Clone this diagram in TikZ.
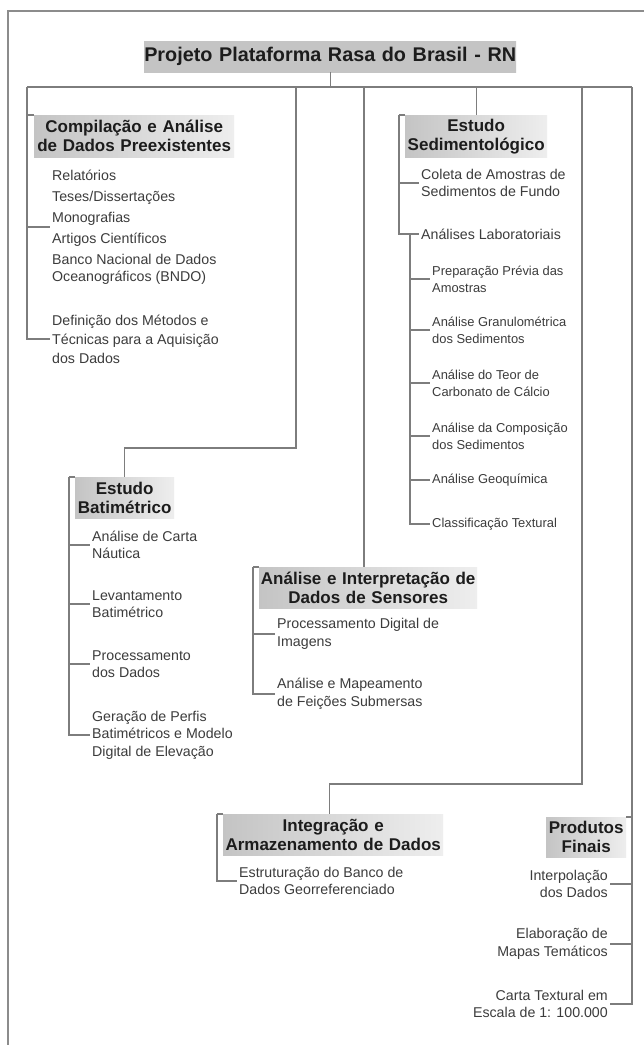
\documentclass[tikz,border=0pt]{standalone}
\usepackage{fontspec}
\setmainfont{Liberation Sans}
\usepackage{xcolor}
\usetikzlibrary{positioning,backgrounds,calc}
\definecolor{ppline}{RGB}{125,125,125}
\definecolor{ppframe}{RGB}{140,140,140}
\definecolor{pphead}{RGB}{28,28,28}
\definecolor{ppitem}{RGB}{60,60,60}
\definecolor{ppboxdark}{RGB}{196,196,196}
\definecolor{ppboxlight}{RGB}{238,238,238}
\definecolor{ppbandL}{RGB}{240,240,240}
\definecolor{ppbandR}{RGB}{248,248,248}
\tikzset{
  headbox/.style={
    inner sep=0pt, align=center, anchor=north west, text=pphead,
    font=\fontsize{17}{19}\selectfont\bfseries,
    left color=ppboxdark, right color=ppboxlight
  },
  titlebox/.style={
    inner sep=0pt, align=center, anchor=north west, text=pphead,
    font=\fontsize{19.8}{22}\selectfont\bfseries,
    left color=ppboxdark, middle color=ppboxlight, right color=ppboxdark
  },
  itemtext/.style={
    inner xsep=2pt, inner ysep=0pt, align=left, anchor=west, text=ppitem,
    font=\fontsize{14.2}{17.5}\selectfont
  },
  subitem/.style={itemtext, font=\fontsize{12.9}{17}\selectfont},
  itemright/.style={itemtext, align=right, anchor=east},
  conn/.style={draw=ppline, line width=1.1pt},
}

\begin{document}
\begin{tikzpicture}[x=1pt,y=-1pt]
  \useasboundingbox (0,0) rectangle (644,1045);
  \fill[white] (0,0) rectangle (644,1045);
  \draw[ppframe, line width=1.1pt] (8,1045) -- (8,11) -- (644,11);

  % ===== title and bus =====
  \node[titlebox, text width=372pt, minimum height=31pt] (title) at (144,41) {Projeto Plataforma Rasa do Brasil - RN};
  \coordinate (busL) at (27,87);
  \coordinate (busR) at (632,87);
  \coordinate (j2) at (296,87);
  \coordinate (j3) at (364,87);
  \coordinate (j5) at (582,87);

  % ===== heading boxes =====
  \node[headbox, text width=200pt, minimum height=42pt] (comp) at (34,115) {Compilação e Análise\\de Dados Preexistentes};
  \node[headbox, text width=142pt, minimum height=42pt] (sedim) at (405,115) {Estudo\\Sedimentológico};
  \node[headbox, text width=99pt, minimum height=41pt] (batim) at (75,477) {Estudo\\Batimétrico};
  \node[headbox, text width=218pt, minimum height=41pt] (sens) at (259,567) {Análise e Interpretação de\\Dados de Sensores};
  \node[headbox, text width=220pt, minimum height=41pt] (integ) at (223,814) {Integração e\\Armazenamento de Dados};
  \node[headbox, text width=80pt, minimum height=40pt] (prod) at (546,817) {Produtos\\Finais};

  % ===== compilation items =====
  \node[itemtext] (fontes) at (50,227) {Relatórios\\[3.5pt]Teses/Dissertações\\[3.5pt]Monografias\\[3.5pt]Artigos Científicos\\[3.5pt]Banco Nacional de Dados\\Oceanográficos (BNDO)};
  \node[itemtext] (metodos) at (50,339) {Definição dos Métodos e\\[1.5pt]Técnicas para a Aquisição\\[1.5pt]dos Dados};

  % ===== bathymetry items =====
  \node[itemtext] (carta) at (90,545) {Análise de Carta\\Náutica};
  \node[itemtext] (levant) at (90,604) {Levantamento\\Batimétrico};
  \node[itemtext] (proc) at (90,664) {Processamento\\dos Dados};
  \node[itemtext] (geracao) at (90,735) {Geração de Perfis\\Batimétricos e Modelo\\Digital de Elevação};

  % ===== sensor items =====
  \node[itemtext] (pdi) at (275,634) {Processamento Digital de\\Imagens};
  \node[itemtext] (mapeam) at (275,694) {Análise e Mapeamento\\de Feições Submersas};

  % ===== sediment items =====
  \node[itemtext] (coleta) at (419,183) {Coleta de Amostras de\\Sedimentos de Fundo};
  \node[itemtext] (analab) at (419,234) {Análises Laboratoriais};
  \node[subitem] (prep) at (430,279) {Preparação Prévia das\\Amostras};
  \node[subitem] (granul) at (430,330) {Análise Granulométrica\\dos Sedimentos};
  \node[subitem] (carbon) at (430,383) {Análise do Teor de\\Carbonato de Cálcio};
  \node[subitem] (compos) at (430,436) {Análise da Composição\\dos Sedimentos};
  \node[subitem] (geoq) at (430,480) {Análise Geoquímica};
  \node[subitem] (classif) at (430,524) {Classificação Textural};

  % ===== integration and products items =====
  \node[itemtext] (estrut) at (237,881) {Estruturação do Banco de\\Dados Georreferenciado};
  \node[itemright] (interp) at (610,884) {Interpolação\\dos Dados};
  \node[itemright] (mapas) at (610,944) {Elaboração de\\Mapas Temáticos};
  \node[itemright] (cartatex) at (610,1004) {Carta Textural em\\Escala de 1: 100.000};

  % ===== faint band behind the title =====
  \begin{scope}[on background layer]
    \fill[left color=ppbandL, right color=ppbandR] (busL |- title.north) rectangle ([yshift=2pt]busR);
  \end{scope}

  % ===== edges =====
  \draw[conn] (title.south) -- (title.south |- busL);
  \draw[conn] (busL) -- (busR);

  % compilation spine
  \draw[conn] (busL) |- (metodos.west);
  \draw[conn] (busL |- comp.north west) -- (comp.north west);
  \draw[conn] (busL |- fontes.west) -- (fontes.west);

  % bathymetry, dropping round the compilation column
  \draw[conn] (j2) |- ([yshift=29pt]batim.north) -- (batim.north);
  \coordinate (bspine) at ([xshift=-6pt]batim.north west);
  \draw[conn] (bspine) -- (batim.north west);
  \draw[conn] (bspine) |- (geracao.west);
  \foreach \n in {carta,levant,proc}
    \draw[conn] (bspine |- \n.west) -- (\n.west);

  % sensors
  \draw[conn] (j3) -- (j3 |- sens.north);
  \coordinate (sspine) at ([xshift=-6pt]sens.north west);
  \draw[conn] (sspine) -- (sens.north west);
  \draw[conn] (sspine) |- (mapeam.west);
  \draw[conn] (sspine |- pdi.west) -- (pdi.west);

  % sediments, with the lab analyses one step in
  \draw[conn] (sedim.north |- busL) -- (sedim.north);
  \coordinate (dspine) at ([xshift=-6pt]sedim.north west);
  \draw[conn] (dspine) -- (sedim.north west);
  \draw[conn] (dspine) |- (analab.west);
  \draw[conn] (dspine |- coleta.west) -- (coleta.west);
  \coordinate (lspine) at ([xshift=-9pt]analab.west);
  \draw[conn] (lspine) |- (classif.west);
  \foreach \n in {prep,granul,carbon,compos,geoq}
    \draw[conn] (lspine |- \n.west) -- (\n.west);

  % integration
  \draw[conn] (j5) |- ([xshift=-4pt,yshift=30pt]integ.north) -- ([xshift=-4pt]integ.north);
  \coordinate (ispine) at ([xshift=-6pt]integ.north west);
  \draw[conn] (ispine) -- (integ.north west);
  \draw[conn] (ispine) |- (estrut.west);

  % final products, right-hand spine
  \draw[conn] (busR) |- (cartatex.east);
  \draw[conn] (busR |- prod.north east) -- (prod.north east);
  \foreach \n in {interp,mapas}
    \draw[conn] (busR |- \n.east) -- (\n.east);

\end{tikzpicture}
\end{document}
